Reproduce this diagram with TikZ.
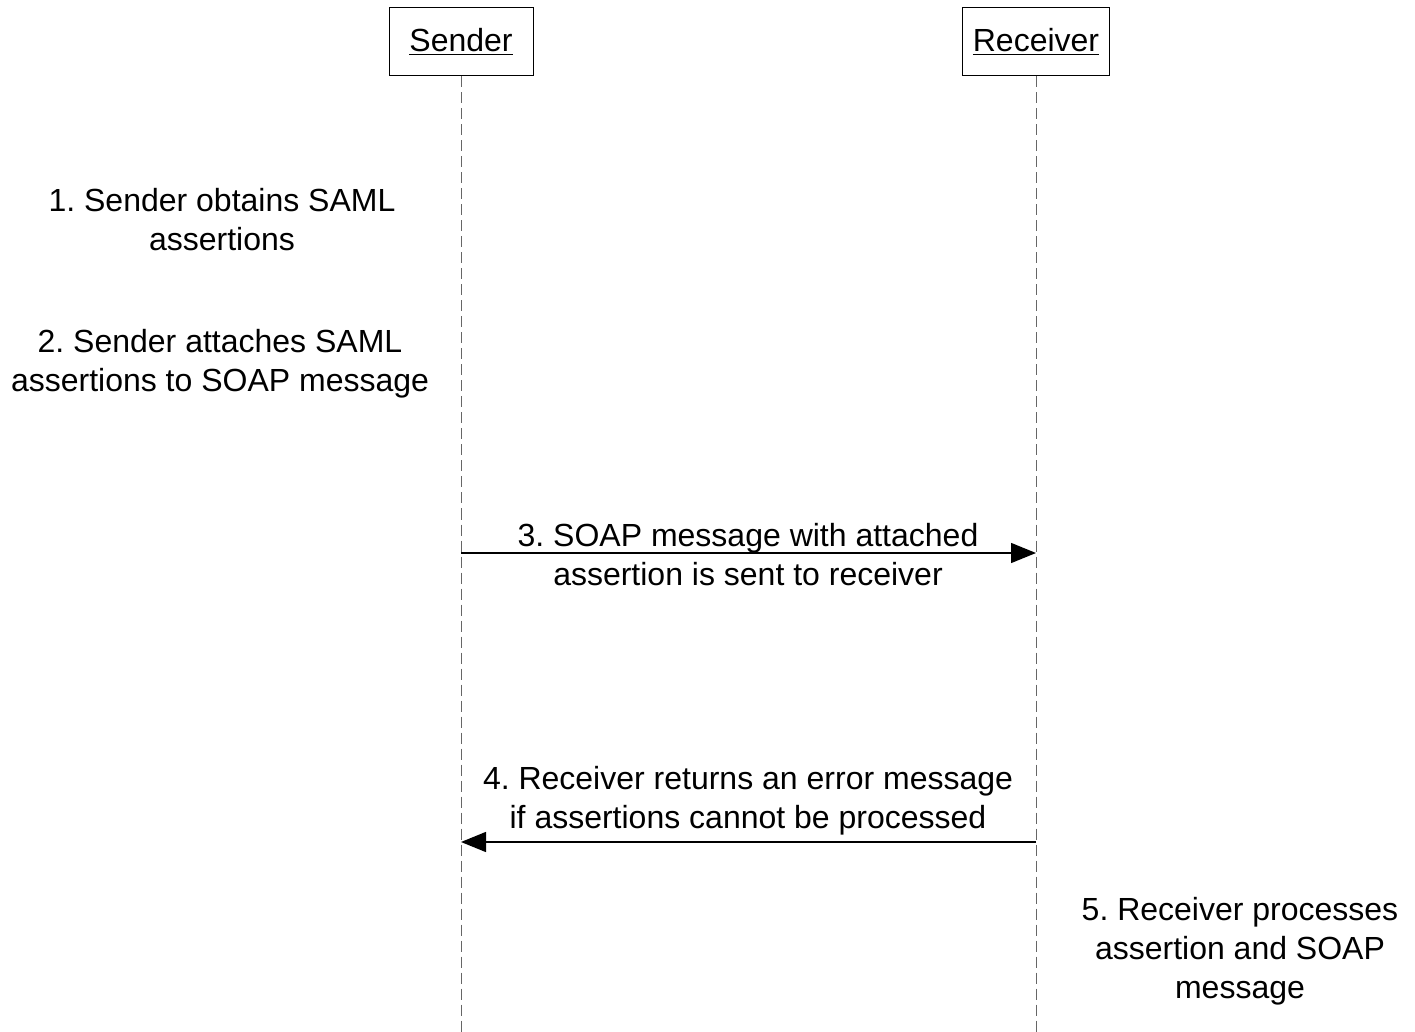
\documentclass[tikz,border=0pt]{standalone}
\usepackage{fontspec}
\setmainfont{Liberation Sans}
\usetikzlibrary{arrows.meta}
\frenchspacing

\tikzset{
  actor/.style={draw,line width=0.5pt,minimum width=72pt,minimum height=34pt,
    font=\fontsize{16}{19.5}\selectfont},
  lifeline/.style={draw=black!60,line width=0.5pt,dash pattern=on 5.5pt off 2.5pt},
  msg/.style={line width=0.7pt,-{Triangle[length=12.5pt,width=10pt]}},
  note/.style={align=center,font=\fontsize{16}{19.5}\selectfont,inner sep=0pt}
}

\begin{document}
\begin{tikzpicture}[x=0.5pt,y=-0.5pt]
  \useasboundingbox (0,0) rectangle (1415,1032);
  % Actors
  \node [actor,minimum width=72pt] (sender) at (461,42) {\underline{Sender}};
  \node [actor,minimum width=73.5pt] (receiver) at (1036,42) {\underline{Receiver}};
  \coordinate (senderEnd) at (461,1032);
  \coordinate (receiverEnd) at (1036,1032);
  \draw [lifeline] (sender.south) -- (senderEnd);
  \draw [lifeline] (receiver.south) -- (receiverEnd);
  % Local steps
  \node [note] (step1) at (222,220) {1. Sender obtains SAML\\assertions};
  \node [note] (step2) at (220,364) {2. Sender attaches SAML\\assertions to SOAP message};
  % Messages
  \coordinate (s3) at (461,553);
  \coordinate (r3) at (1036,553);
  \node [note,fill=white,inner ysep=0pt] (step3) at (748,555)
    {3. SOAP message with attached\\assertion is sent to receiver};
  \draw [msg] (s3) -- (r3);
  \coordinate (s4) at (461,842);
  \coordinate (r4) at (1036,842);
  \node [note] (step4) at (748,801)
    {4. Receiver returns an error message\\if assertions cannot be processed};
  \draw [msg] (r4) -- (s4);
  \node [note] (step5) at (1240,951)
    {5. Receiver processes\\assertion and SOAP\\message};
\end{tikzpicture}
\end{document}
